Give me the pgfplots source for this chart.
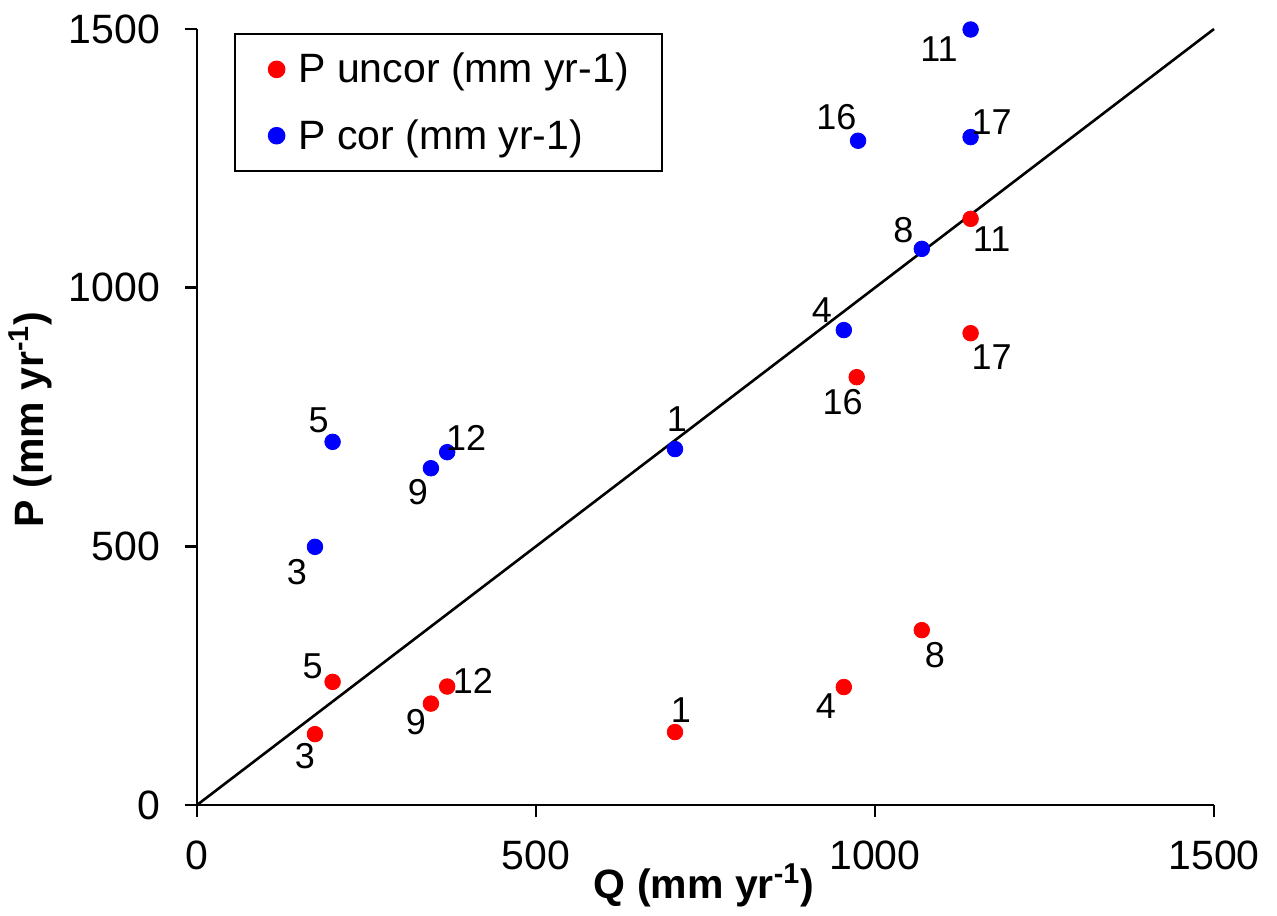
\documentclass[border=0pt]{standalone}
\usepackage{pgfplots}
\pgfplotsset{compat=1.18}
\usepackage{fontspec}
\setmainfont{Liberation Sans}
\begin{document}
\begin{tikzpicture}
\useasboundingbox (-98.5pt,-55pt) rectangle (540pt,402.5pt);
\begin{axis}[
  at={(0,0)}, anchor=south west,
  scale only axis, width=508.5pt, height=388pt,
  xmin=0, xmax=1500, ymin=0, ymax=1500,
  axis lines*=left,
  axis line style={line width=1.3pt},
  tick align=outside,
  major tick length=6pt,
  tick style={black, line width=1.3pt},
  xtick={0,500,1000,1500}, ytick={0,500,1000,1500},
  ticklabel style={font=\fontsize{20.5}{24}\selectfont},
  xticklabel style={yshift=-8.5pt},
  yticklabel style={xshift=-9pt},
  /pgf/number format/assume math mode=true,
  /pgf/number format/set thousands separator={},
  scaled ticks=false,
  clip=false,
  xlabel={\textbf{Q (mm yr\textsuperscript{-1})}},
  ylabel={\textbf{P (mm yr\textsuperscript{-1})}},
  xlabel style={at={(axis description cs:0.4985,0)}, anchor=center, yshift=-40pt, font=\fontsize{20.5}{24}\selectfont},
  ylabel style={at={(axis description cs:-0.1642,0.497)}, anchor=center, font=\fontsize{20.5}{24}\selectfont},
  legend style={at={(axis description cs:0.0364,0.9948)}, anchor=north west,
    draw=black, line width=1pt, font=\fontsize{20.5}{24}\selectfont,
    inner xsep=16.5pt, inner ysep=9.5pt, row sep=16.8pt, column sep=7pt,
    nodes={inner sep=0pt}},
  legend cell align=left,
  legend image code/.code={\path (0pt,0pt) -- (8pt,0pt); \draw[#1] plot coordinates {(4.3pt,0pt)};},
]
\addplot[black, line width=1.3pt, forget plot] coordinates {(0,0) (1500,1500)};
\addplot[only marks, mark=*, mark size=3.9pt, color=red, draw=none,
  nodes near coords, point meta=explicit symbolic,
  visualization depends on={value \thisrow{dx} \as \dx},
  visualization depends on={value \thisrow{dy} \as \dy},
  every node near coord/.append style={anchor=center, xshift=\dx pt, yshift=\dy pt, text=black, font=\fontsize{18}{20}\selectfont}]
  table[x=x, y=y, meta=lab] {
x y dx dy lab
174 137 -5 -11.2 3
200 238 -10 7.8 5
345 196 -7.5 -9.3 9
369 229 12.8 3 12
705 141 3 11 1
954 228 -9 -9.5 4
1069 338 6.5 -12.5 8
973 827 -7 -12.5 16
1141 912 10.5 -12 17
1141 1133 10.5 -10 11
};
\addlegendentry{P uncor (mm yr-1)}
\addplot[only marks, mark=*, mark size=3.9pt, color=blue, draw=none,
  nodes near coords, point meta=explicit symbolic,
  visualization depends on={value \thisrow{dx} \as \dx},
  visualization depends on={value \thisrow{dy} \as \dy},
  every node near coord/.append style={anchor=center, xshift=\dx pt, yshift=\dy pt, text=black, font=\fontsize{18}{20}\selectfont}]
  table[x=x, y=y, meta=lab] {
x y dx dy lab
174 499 -9 -12.5 3
200 702 -7 11 5
345 651 -6.5 -12 9
369 682 9.5 7 12
705 688 1 15 1
954 918 -11 10 4
1069 1075 -9.2 9.5 8
975 1284 -10.8 12 16
1141 1291 10.5 7.4 17
1141 1499 -15.8 -9.6 11
};
\addlegendentry{P cor (mm yr-1)}
\end{axis}
\end{tikzpicture}
\end{document}
